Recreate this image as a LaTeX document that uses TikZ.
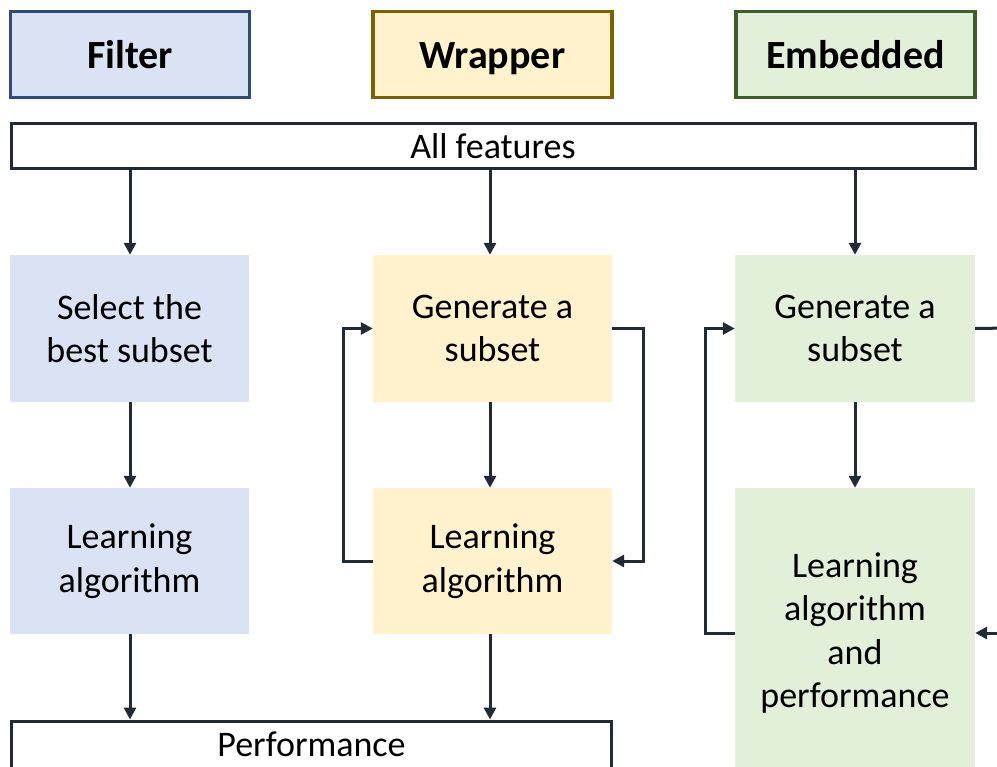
\documentclass[tikz,border=0pt]{standalone}
\usepackage{fontspec}
\setmainfont{Carlito}
\usetikzlibrary{arrows.meta}
\definecolor{fblue}{HTML}{DAE3F3}
\definecolor{fbluedk}{HTML}{2F4B7C}
\definecolor{wyel}{HTML}{FFF2CC}
\definecolor{wyeldk}{HTML}{7F6000}
\definecolor{egrn}{HTML}{E2F0D9}
\definecolor{egrndk}{HTML}{3B5E2B}
\definecolor{lnk}{HTML}{222A35}
\tikzset{
  x=1pt, y=-1pt,
  titlebox/.style={draw, line width=3.2pt, inner sep=0pt, minimum width=239pt, minimum height=86pt,
    text height=36pt, text depth=7pt,
    font=\bfseries\fontsize{40}{48}\selectfont},
  stepbox/.style={inner sep=0pt, minimum width=239pt, minimum height=147pt, align=center,
    font=\fontsize{36}{43.5}\selectfont},
  barbox/.style={draw=lnk, fill=white, line width=3pt, inner sep=0pt, minimum height=45pt,
    font=\fontsize{36}{43.5}\selectfont},
  arr/.style={draw=lnk, line width=3pt, -{Triangle[width=12pt,length=12pt]}},
  ln/.style={draw=lnk, line width=3pt},
}
\begin{document}
\begin{tikzpicture}
\path[use as bounding box, clip] (0,0) rectangle (997,767);
\fill[white] (0,0) rectangle (997,767);

% titles
\node[titlebox, draw=fbluedk, fill=fblue] (tf) at (130,54.5) {Filter};
\node[titlebox, draw=wyeldk, fill=wyel] (tw) at (492.5,54.5) {Wrapper};
\node[titlebox, draw=egrndk, fill=egrn] (te) at (855.5,54.5) {Embedded};

% all features
\node[barbox, minimum width=964pt] (all) at (493,146) {All features};

% filter column
\node[stepbox, fill=fblue] (fs) at (129.5,328.5) {Select the\\best subset};
\node[stepbox, fill=fblue, minimum height=146pt] (fl) at (129.5,561) {Learning\\algorithm};

% wrapper column
\node[stepbox, fill=wyel] (wg) at (492.5,328.5) {Generate a\\subset};
\node[stepbox, fill=wyel, minimum height=146pt] (wl) at (492.5,561) {Learning\\algorithm};

% embedded column
\node[stepbox, fill=egrn, minimum width=240pt] (eg) at (855,328.5) {Generate a\\subset};
\node[stepbox, fill=egrn, minimum width=240pt, minimum height=290pt] (el) at (855,633) {Learning\\algorithm\\and\\performance};

% performance
\node[barbox, minimum width=600pt, minimum height=47pt] (perf) at (311.5,744.5) {Performance};

% coordinates
\coordinate (fa) at (130,169);
\coordinate (wa) at (490,169);
\coordinate (ea) at (855,169);
\coordinate (er1) at (1010,328);
\coordinate (er2) at (1010,633);

% arrows from all features
\draw[arr] (fa) -- (fs.north -| fa);
\draw[arr] (wa) -- (wg.north -| wa);
\draw[arr] (ea) -- (eg.north);

% filter
\draw[arr] (fs.south -| fa) -- (fl.north -| fa);
\draw[arr] (fl.south -| fa) -- (perf.north -| fa);

% wrapper
\draw[arr] (wg.south -| wa) -- (wl.north -| wa);
\draw[arr] (wl.south -| wa) -- (perf.north -| wa);
\draw[arr] (wl.west) -- ++(-29,0) |- (wg.west);
\draw[arr] (wg.east) -- ++(31,0) |- (wl.east);

% embedded
\draw[arr] (eg.south) -- (el.north);
\draw[arr] (el.west) -- ++(-29,0) |- (eg.west);
\draw[ln] (eg.east) -- (er1);
\draw[arr] (er2) -- (el.east);
\end{tikzpicture}
\end{document}
